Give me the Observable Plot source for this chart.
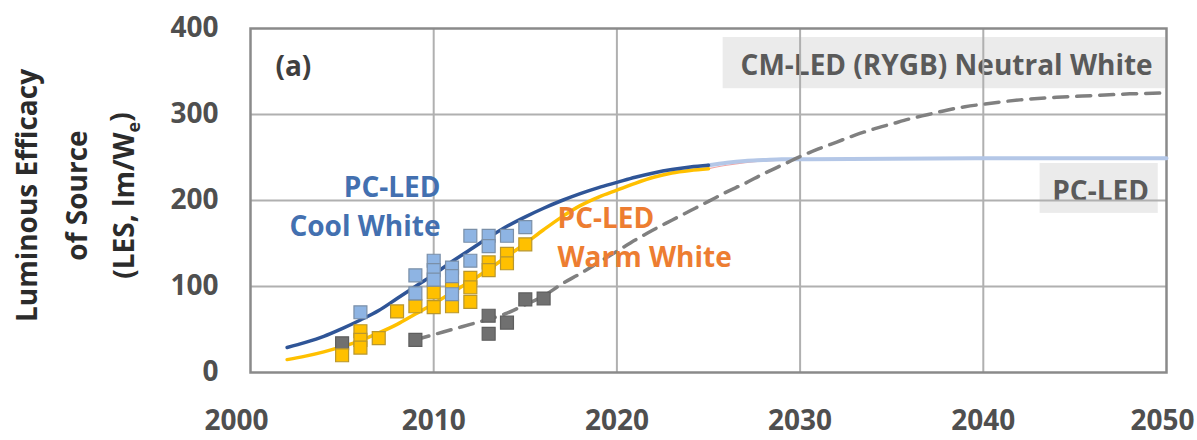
<!DOCTYPE html>
<html>
<head>
<meta charset="utf-8">
<script src="https://cdn.jsdelivr.net/npm/d3@7"></script>
<script src="https://cdn.jsdelivr.net/npm/@observablehq/plot@0.6"></script>
<style>
  body { margin: 0; background: #fff; }
  #chart svg { display: block; }
</style>
</head>
<body>
<div id="chart"></div>
<script>
// Axis ticks
const xTicks = [2000, 2010, 2020, 2030, 2040, 2050];
const yTicks = [0, 100, 200, 300, 400];

// Measured products: [year, LES in lm/W]
const coolWhiteMeasured = [
  [2006, 70], [2009, 113], [2009, 92], [2010, 130], [2010, 119], [2010, 108],
  [2011, 122], [2011, 112], [2011, 91], [2012, 159], [2012, 130],
  [2013, 159], [2013, 147], [2014, 159], [2015, 169]
];
const warmWhiteMeasured = [
  [2005, 20], [2006, 48], [2006, 38], [2006, 29], [2007, 40], [2008, 71],
  [2009, 77], [2010, 93], [2010, 76], [2011, 100], [2011, 77],
  [2012, 110], [2012, 99], [2012, 82], [2013, 128], [2013, 119],
  [2014, 138], [2014, 127], [2015, 149]
];
const cmLedMeasured = [
  [2005, 34], [2009, 38], [2013, 66], [2013, 45], [2014, 58], [2015, 85], [2016, 86]
];

// Fitted trends: [year, LES]
const coolWhiteFit = [
  [2002, 29], [2003, 35], [2004, 42], [2005, 51], [2006, 61], [2007, 72],
  [2008, 86], [2009, 100], [2010, 114], [2011, 129], [2012, 143], [2013, 157],
  [2014, 170], [2015, 181], [2016, 191], [2017, 200], [2018, 208], [2019, 215],
  [2020, 221], [2021, 227], [2022, 232], [2023, 236], [2024, 239], [2025, 241]
];
const warmWhiteFit = [
  [2002, 15], [2003, 19], [2004, 24], [2005, 30], [2006, 37], [2007, 46],
  [2008, 56], [2009, 68], [2010, 80], [2011, 93], [2012, 106], [2013, 120],
  [2014, 135], [2015, 150], [2016, 166], [2017, 181], [2018, 194], [2019, 204],
  [2020, 212], [2021, 220], [2022, 227], [2023, 232], [2024, 235], [2025, 237]
];
const pcLedProjection = [
  [2025, 241], [2026, 244], [2027, 246], [2028, 247], [2029, 248], [2030, 248],
  [2040, 249], [2050, 249]
];
const warmWhiteProjection = [
  [2025, 237], [2026, 241], [2027, 244], [2028, 246], [2029, 247], [2030, 248]
];
const cmLedFit = [
  [2009, 38], [2010, 44], [2011, 50], [2012, 56], [2013, 62], [2014, 69],
  [2015, 79], [2016, 89], [2017, 103], [2018, 115], [2019, 128], [2020, 141],
  [2021, 154], [2022, 166], [2023, 177], [2024, 188], [2025, 199], [2026, 210],
  [2027, 220], [2028, 231], [2029, 241], [2030, 251], [2031, 260], [2032, 268],
  [2033, 276], [2034, 283], [2035, 289], [2036, 295], [2037, 300], [2038, 305],
  [2039, 309], [2040, 312], [2042, 317], [2044, 320], [2046, 322], [2048, 324],
  [2050, 325]
];

// Annotation text
const panelLabel = "(a)";
const coolWhiteLabel = ["PC-LED", "Cool White"];
const warmWhiteLabel = ["PC-LED", "Warm White"];
const cmLedLabel = "CM-LED (RYGB) Neutral White";
const pcLedLabel = "PC-LED";
const yTitle = ["Luminous Efficacy", "of Source", "(LES, lm/We)"];

const rows = pairs => pairs.map(([year, les]) => ({year, les}));

const FONT = "'Open Sans', 'DejaVu Sans', sans-serif";
const BIG = 28;

const squareMarks = (pairs, fill, stroke) =>
  Plot.dot(rows(pairs), {
    x: "year", y: "les", symbol: "square", r: 7.3,
    fill, stroke, strokeWidth: 1.2
  });

const trend = (pairs, stroke, strokeWidth, extra = {}) =>
  Plot.line(rows(pairs), {x: "year", y: "les", stroke, strokeWidth, curve: "monotone-x", ...extra});

const tickStyle = {tickSize: 0, fontSize: BIG, fontWeight: 700, fill: "#4f4f4f"};

const chart = Plot.plot({
  width: 1197,
  height: 440,
  marginLeft: 250,
  marginRight: 31,
  marginTop: 28,
  marginBottom: 68,
  style: {
    fontFamily: FONT,
    fontSize: BIG + "px",
    fontWeight: 700,
    color: "#4f4f4f",
    background: "#fff"
  },
  x: {domain: [2000, 2050], label: null},
  y: {domain: [0, 400], label: null},
  marks: [
    // shaded label boxes
    Plot.rect([{x1: 2025.8, x2: 2049.95, y1: 330, y2: 389.5}, {x1: 2043.1, x2: 2049.55, y1: 185, y2: 243}],
      {x1: "x1", x2: "x2", y1: "y1", y2: "y2", fill: "#ebebeb"}),
    Plot.text([cmLedLabel], {x: 2026.75, y: 356, text: d => d, textAnchor: "start", fill: "#5a5a5a", fontSize: BIG, fontWeight: 700}),
    Plot.text([pcLedLabel], {x: 2046.4, y: 210, text: d => d, textAnchor: "middle", fill: "#5a5a5a", fontSize: BIG, fontWeight: 700}),
    // grid
    Plot.ruleX(xTicks.slice(1, -1), {stroke: "#b0b0b0", strokeWidth: 2}),
    Plot.ruleY(yTicks.slice(1, -1), {stroke: "#b0b0b0", strokeWidth: 2}),
    Plot.frame({stroke: "#8a8a8a", strokeWidth: 2.5}),
    // axes; the end labels sit slightly inward
    Plot.axisY(yTicks, {...tickStyle, tickPadding: 32}),
    Plot.axisX(xTicks.slice(1, -1), {...tickStyle, tickPadding: 38, tickFormat: d => String(d)}),
    Plot.axisX(xTicks.slice(0, 1), {...tickStyle, tickPadding: 38, tickFormat: d => String(d), dx: -14}),
    Plot.axisX(xTicks.slice(-1), {...tickStyle, tickPadding: 38, tickFormat: d => String(d), dx: -4}),
    // projections and fits
    trend(warmWhiteProjection, "#f2a5a5", 1.2),
    trend(pcLedProjection, "#b4c7e7", 4),
    trend(cmLedFit, "#808080", 3.5, {strokeDasharray: "14,9"}),
    trend(warmWhiteFit, "#ffc000", 3.5),
    trend(coolWhiteFit, "#2f5597", 3.5),
    // measured products
    squareMarks(cmLedMeasured, "#707070", "#5e5e5e"),
    squareMarks(warmWhiteMeasured, "#ffc000", "#b8962e"),
    squareMarks(coolWhiteMeasured, "#8eb4e3", "#7a8fa8"),
    // annotations
    Plot.text([panelLabel], {x: 2001.36, y: 355, text: d => d, textAnchor: "start", fill: "#3f3f3f", fontSize: BIG, fontWeight: 700}),
    Plot.text(coolWhiteLabel, {x: 2010.37, y: (d, i) => [215, 169][i], text: d => d, textAnchor: "end", fill: "#4370b0", fontSize: BIG, fontWeight: 700}),
    Plot.text(warmWhiteLabel, {x: 2016.76, y: (d, i) => [179, 133][i], text: d => d, textAnchor: "start", fill: "#ed7d31", fontSize: BIG, fontWeight: 700}),
    // y-axis title, three rotated lines
    ...yTitle.map((line, i) => Plot.text([line], {
      frameAnchor: "left", text: d => d, rotate: -90, textAnchor: "middle", lineAnchor: "middle",
      dx: [-222, -172, -125][i], dy: -5,
      fill: "#2b2b2b", fontSize: BIG, fontWeight: 700
    }))
  ]
});

// write the "e" of W_e as a subscript
d3.select(chart).selectAll("text")
  .filter(function () { return this.textContent === "(LES, lm/We)"; })
  .each(function () {
    const t = d3.select(this);
    t.text(null);
    t.append("tspan").text("(LES, lm/W");
    t.append("tspan").attr("dy", "0.3em").attr("font-size", "18px").text("e");
    t.append("tspan").attr("dy", "-0.3em").text(")");
  });

document.getElementById("chart").append(chart);
</script>
</body>
</html>
